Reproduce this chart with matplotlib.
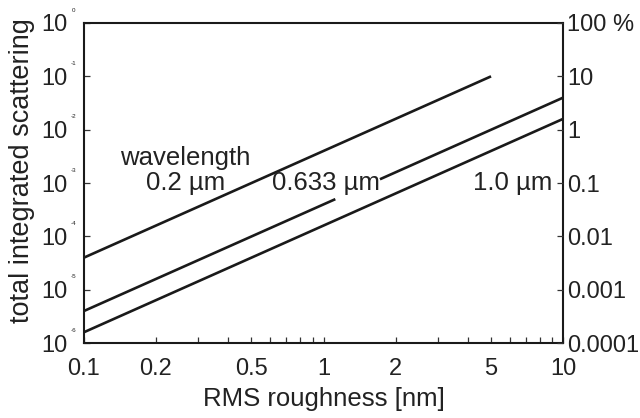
import matplotlib
matplotlib.use("Agg")
import matplotlib.pyplot as plt
from matplotlib import transforms
from matplotlib.ticker import FixedLocator, NullLocator, NullFormatter

plt.rcParams['font.family'] = ['Liberation Sans', 'DejaVu Sans']

# data (endpoints of straight lines in log-log)
x_02 = [0.1, 5.0]
y_02 = [4.0e-5, 0.1]
x_633_a = [0.1, 1.12]
y_633_a = [4.0e-6, 5.0e-4]
x_633_b = [1.72, 10.0]
y_633_b = [1.18e-3, 4.0e-2]
x_10 = [0.1, 10.0]
y_10 = [1.6e-6, 1.6e-2]

x_ticks = [0.1, 0.2, 0.5, 1, 2, 5, 10]
x_ticklabels = ['0.1', '0.2', '0.5', '1', '2', '5', '10']
x_minor = [0.3, 0.4, 0.6, 0.7, 0.8, 0.9, 3, 4, 6, 7, 8, 9]
y_exponents = [0, -1, -2, -3, -4, -5, -6]
right_ticks = [100, 10, 1, 0.1, 0.01, 0.001, 0.0001]
right_labels = ['100 %', '10', '1', '0.1', '0.01', '0.001', '0.0001']

labels = [('wavelength', 0.264, 2.95e-3), ('0.2 µm', 0.266, 1.0e-3),
          ('0.633 µm', 1.024, 1.0e-3), ('1.0 µm', 6.18, 1.0e-3)]

TXT = '#222222'
fig = plt.figure(figsize=(6.4, 4.18), dpi=100)
ax = fig.add_axes([0.131, 0.179, 0.749, 0.766])
lw = 1.9
for xs, ys in [(x_02, y_02), (x_633_a, y_633_a), (x_633_b, y_633_b), (x_10, y_10)]:
    ax.plot(xs, ys, color='#1a1a1a', lw=lw, solid_capstyle='butt')

ax.set_xscale('log')
ax.set_yscale('log')
ax.set_xlim(0.1, 10)
ax.set_ylim(1e-6, 1)

ax.xaxis.set_major_locator(FixedLocator(x_ticks))
ax.set_xticklabels(x_ticklabels)
ax.xaxis.set_minor_locator(FixedLocator(x_minor))
ax.xaxis.set_minor_formatter(NullFormatter())
ax.tick_params(axis='x', which='both', direction='in', length=4, width=0.9,
               labelsize=17, pad=11, color='#333333', labelcolor=TXT)

ax.yaxis.set_major_locator(FixedLocator([10.0**k for k in y_exponents]))
ax.yaxis.set_minor_locator(NullLocator())
ax.set_yticklabels(['10'] * len(y_exponents))
ax.tick_params(axis='y', which='major', direction='in', length=4.5, width=0.9,
               labelsize=17, pad=12, color='#333333', labelcolor=TXT)

blend = transforms.blended_transform_factory(ax.transAxes, ax.transData)
for k in y_exponents:
    ax.annotate(str(k), xy=(-0.022, 10.0**k), xycoords=blend,
                xytext=(0, 7.5), textcoords='offset points',
                fontsize=4.5, ha='center', va='bottom', color=TXT)

for s in ax.spines.values():
    s.set_linewidth(1.5)
    s.set_color('#1a1a1a')

ax2 = ax.twinx()
ax2.set_yscale('log')
ax2.set_ylim(1e-4, 100)
ax2.yaxis.set_major_locator(FixedLocator(right_ticks))
ax2.set_yticklabels(right_labels)
ax2.yaxis.set_minor_locator(NullLocator())
ax2.tick_params(axis='y', which='major', direction='in', length=4.5, width=0.9,
                labelsize=17, pad=3, color='#333333', labelcolor=TXT)
for s in ax2.spines.values():
    s.set_visible(False)

for txt, xv, yv in labels:
    ax.text(xv, yv, txt, fontsize=18.5, ha='center', va='center', color=TXT)

ax.set_xlabel('RMS roughness [nm]', fontsize=18.5, labelpad=5, color=TXT)
ax.set_ylabel('total integrated scattering', fontsize=19.5, labelpad=4.5, color=TXT)
ax.yaxis.label.set_y(0.54)

fig.savefig('out.png', dpi=100)
